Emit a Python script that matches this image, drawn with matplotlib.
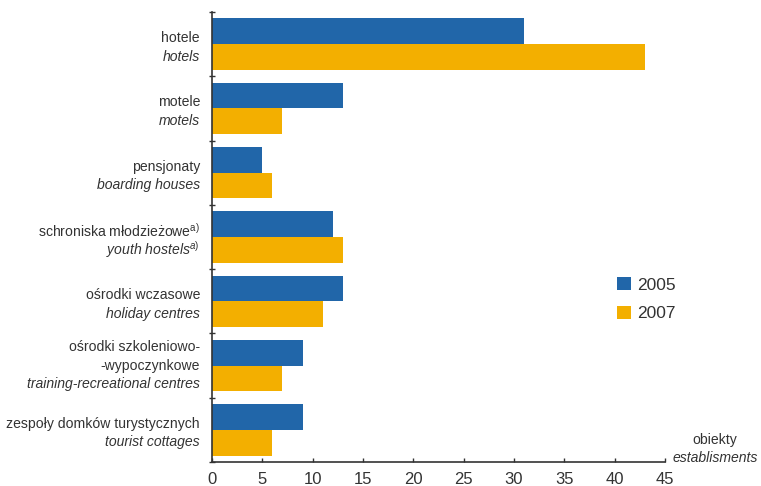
import matplotlib
matplotlib.use("Agg")
import matplotlib.pyplot as plt
import numpy as np

categories_pl = ["hotele", "motele", "pensjonaty", "schroniska młodzieżowe$^{\\mathrm{a)}}$",
                 "ośrodki wczasowe", "ośrodki szkoleniowo-\n-wypoczynkowe", "zespoły domków turystycznych"]
categories_en = ["hotels", "motels", "boarding houses", "youth hostels$^{a)}$",
                 "holiday centres", "training-recreational centres", "tourist cottages"]
values_2005 = [31, 13, 5, 12, 13, 9, 9]
values_2007 = [43, 7, 6, 13, 11, 7, 6]
xticks = [0, 5, 10, 15, 20, 25, 30, 35, 40, 45]

plt.rcParams['font.family'] = ['Liberation Sans', 'DejaVu Sans']
plt.rcParams['mathtext.fontset'] = 'custom'
plt.rcParams['mathtext.rm'] = 'Liberation Sans'
plt.rcParams['mathtext.it'] = 'Liberation Sans:italic'

txt = '#333333'
blue = '#2166a9'
orange = '#f3af00'

fig = plt.figure(figsize=(7.61, 4.86), dpi=100)
ax = fig.add_axes([0.2786, 0.0494, 0.8739 - 0.2786, 0.9753 - 0.0494])

y = np.arange(len(values_2005))
h = 0.4
ax.barh(y - h / 2, values_2005, height=h, color=blue, label='2005')
ax.barh(y + h / 2, values_2007, height=h, color=orange, label='2007')

ax.set_xlim(0, 45)
ax.set_ylim(len(y) - 0.5, -0.5)
ax.set_xticks(xticks)
ax.set_xticklabels([str(t) for t in xticks], fontsize=12, color=txt)
ax.set_yticks(np.arange(len(y) + 1) - 0.5)
ax.set_yticklabels([])
ax.tick_params(axis='y', direction='inout', length=5, color='#333333', width=1)
ax.tick_params(axis='x', direction='in', length=3, color='#333333', width=1, pad=7)

for s in ['top', 'right']:
    ax.spines[s].set_visible(False)
for s in ['left', 'bottom']:
    ax.spines[s].set_color('#333333')
    ax.spines[s].set_linewidth(1.2)

xt = -1.2
line = 0.29
fs = 10.1
for i in range(len(y)):
    parts = categories_pl[i].split('\n')
    n_pl = len(parts)
    n = n_pl + 1
    top = i - (n - 1) * line / 2 + (0.05 if n % 2 == 0 else 0.0)
    for k, part in enumerate(parts):
        ax.text(xt, top + k * line, part, ha='right', va='center', fontsize=fs, color=txt)
    ax.text(xt, top + n_pl * line, categories_en[i], ha='right', va='center',
            fontsize=fs, color=txt, style='italic')

leg = ax.legend(loc='center left', bbox_to_anchor=(0.878, 0.362), frameon=False,
                fontsize=12.5, handlelength=0.8, handleheight=0.8, handletextpad=0.4,
                labelspacing=0.75, borderaxespad=0)
for t in leg.get_texts():
    t.set_color(txt)

fig.text(715 / 761, 1 - 440 / 486, 'obiekty', ha='center', va='center', fontsize=fs, color=txt)
fig.text(715 / 761, 1 - 458 / 486, 'establisments', ha='center', va='center', fontsize=fs,
         color=txt, style='italic')

fig.savefig('out.png', dpi=100)
